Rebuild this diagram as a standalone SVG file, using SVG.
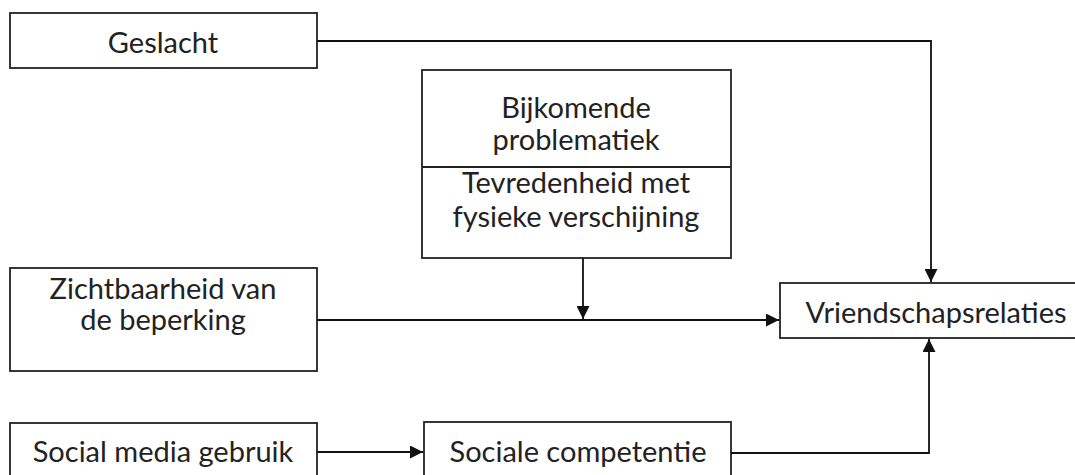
<svg xmlns="http://www.w3.org/2000/svg" width="1075" height="475" viewBox="0 0 1075 475">
<style>
.box{fill:#fff;stroke:#222;stroke-width:1.8}
.lbl{font-family:Lato,"Liberation Sans",sans-serif;font-size:29px;fill:#222;text-anchor:middle}
.con{fill:none;stroke:#111;stroke-width:1.8}
</style>
<defs>
<marker id="ahb" viewBox="0 0 10 10" refX="10" refY="5" markerWidth="13" markerHeight="13" markerUnits="userSpaceOnUse" orient="auto">
<path d="M0,0 L10,5 L0,10 z" fill="#111"/>
</marker>
</defs>
<rect width="1075" height="475" fill="#fff"/>
<g id="geslacht">
<rect class="box" x="10" y="13" width="307" height="55"/>
<text class="lbl" x="163" y="53">Geslacht</text>
</g>
<g id="bijkomende">
<rect class="box" x="422" y="70" width="309" height="188"/>
<line class="box" x1="422" y1="167" x2="731" y2="167"/>
<text class="lbl" x="576" y="118">Bijkomende</text>
<text class="lbl" x="576" y="150">problematiek</text>
<text class="lbl" x="576" y="193">Tevredenheid met</text>
<text class="lbl" x="576" y="227">fysieke verschijning</text>
</g>
<g id="zichtbaarheid">
<rect class="box" x="10" y="268" width="307" height="103"/>
<text class="lbl" x="163" y="299">Zichtbaarheid van</text>
<text class="lbl" x="163" y="330">de beperking</text>
</g>
<g id="vriendschap">
<rect class="box" x="780" y="283" width="305" height="55"/>
<text class="lbl" x="936" y="323">Vriendschapsrelaties</text>
</g>
<g id="socialmedia">
<rect class="box" x="10" y="423" width="307" height="60"/>
<text class="lbl" x="163" y="462">Social media gebruik</text>
</g>
<g id="competentie">
<rect class="box" x="424" y="422" width="307" height="60"/>
<text class="lbl" x="578" y="462">Sociale competentie</text>
</g>
<g id="connectors">
<polyline class="con" points="317,41 931,41 931,282" marker-end="url(#ahb)"/>
<line class="con" x1="583" y1="258" x2="583" y2="319" marker-end="url(#ahb)"/>
<line class="con" x1="317" y1="320" x2="779" y2="320" marker-end="url(#ahb)"/>
<line class="con" x1="317" y1="452" x2="423" y2="452" marker-end="url(#ahb)"/>
<polyline class="con" points="731,453 929,453 929,339" marker-end="url(#ahb)"/>
</g>
</svg>
